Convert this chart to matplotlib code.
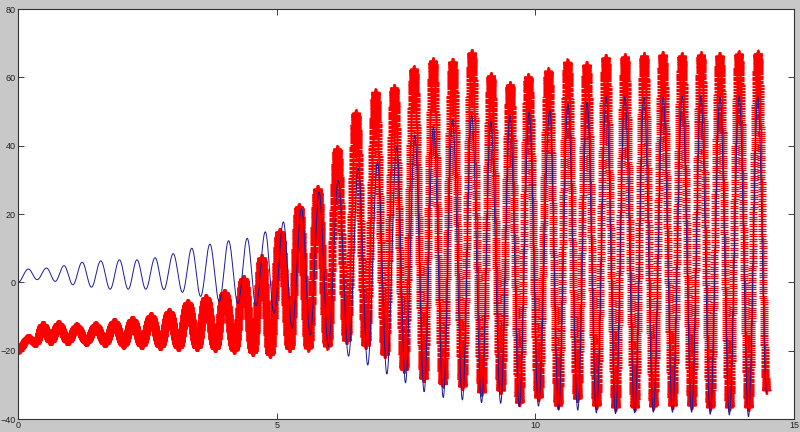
import numpy as np
import matplotlib
matplotlib.use("Agg")
import matplotlib.pyplot as plt

# red series: start, alternating peaks / troughs, end
red_start = (0.0, -19.7)
red_end = (14.47, -31.5)
red_peak_t = [0.20, 0.48, 0.78, 1.13, 1.50, 1.86, 2.21, 2.57, 2.92, 3.28,
              3.63, 3.99, 4.36, 4.71, 5.06, 5.43, 5.79, 6.17, 6.53, 6.91,
              7.27, 7.65, 8.02, 8.40, 8.77, 9.14, 9.51, 9.86, 10.25, 10.62,
              10.99, 11.36, 11.73, 12.10, 12.46, 12.83, 13.20, 13.56, 13.93, 14.30]
red_peak_v = [-16.3, -12.4, -12.2, -12.9, -12.6, -11.6, -10.9, -9.9, -8.7, -6.1,
              -4.6, -3.1, 1.0, 7.1, 14.8, 22.1, 27.3, 39.0, 49.5, 55.6,
              57.0, 62.4, 64.8, 64.6, 67.2, 60.5, 57.9, 60.2, 61.8, 64.4,
              63.6, 65.8, 66.0, 66.3, 66.5, 66.3, 66.5, 66.3, 66.8, 67.0]
red_trough_t = [0.34, 0.63, 0.96, 1.32, 1.68, 2.04, 2.39, 2.75, 3.10, 3.46,
                3.81, 4.18, 4.54, 4.87, 5.25, 5.61, 5.98, 6.35, 6.72, 7.09,
                7.46, 7.84, 8.21, 8.59, 8.96, 9.33, 9.69, 10.06, 10.44, 10.81,
                11.18, 11.55, 11.92, 12.28, 12.65, 13.02, 13.38, 13.75, 14.12]
red_trough_v = [-17.8, -17.3, -17.3, -17.4, -17.8, -18.2, -18.4, -18.7, -19.0, -19.0,
                -19.2, -19.7, -20.4, -21.0, -19.3, -19.1, -18.5, -16.9, -18.3, -21.1,
                -25.4, -28.1, -29.6, -30.3, -32.0, -31.5, -35.1, -33.5, -35.9, -33.9,
                -35.9, -36.4, -36.4, -36.1, -35.9, -35.9, -36.4, -36.4, -36.4]

# blue series
blue_start = (0.0, 0.0)
blue_end = (14.47, -32.0)
blue_peak_t = [0.20, 0.55, 0.89, 1.24, 1.60, 1.96, 2.30, 2.65, 3.00, 3.36,
               3.71, 4.07, 4.43, 4.78, 5.13, 5.48, 5.82, 6.19, 6.58, 6.95,
               7.32, 7.67, 8.03, 8.40, 8.77, 9.14, 9.51, 9.88, 10.28, 10.63,
               11.00, 11.37, 11.73, 12.10, 12.47, 12.84, 13.20, 13.57, 13.94, 14.30]
blue_peak_v = [3.9, 4.2, 4.9, 5.9, 6.3, 6.6, 6.6, 7.2, 8.4, 10.0,
               11.2, 12.2, 12.9, 14.8, 17.7, 21.7, 26.5, 29.9, 33.4, 35.3,
               39.7, 43.1, 45.5, 47.5, 49.0, 47.0, 49.0, 49.9, 50.4, 52.4,
               52.9, 54.3, 54.3, 54.3, 54.3, 54.5, 54.5, 54.3, 54.5, 54.5]
blue_trough_t = [0.37, 0.72, 1.06, 1.42, 1.78, 2.13, 2.47, 2.82, 3.18, 3.53,
                 3.89, 4.25, 4.60, 4.95, 5.30, 5.65, 6.00, 6.39, 6.76, 7.13,
                 7.49, 7.85, 8.22, 8.59, 8.96, 9.33, 9.69, 10.06, 10.45, 10.82,
                 11.18, 11.55, 11.92, 12.28, 12.65, 13.02, 13.38, 13.75, 14.12]
blue_trough_v = [0.8, 0.3, -0.7, -1.4, -2.0, -2.0, -2.0, -2.1, -2.9, -4.1,
                 -5.6, -6.2, -6.8, -9.1, -13.4, -15.4, -18.8, -21.6, -24.2, -26.8,
                 -29.4, -32.0, -33.7, -34.4, -35.2, -35.4, -36.4, -36.2, -37.4, -37.4,
                 -38.2, -38.4, -38.2, -38.0, -38.0, -38.0, -38.6, -38.8, -39.3]


def knots(start, pk_t, pk_v, tr_t, tr_v, end):
    t = [start[0]] + list(pk_t) + list(tr_t) + [end[0]]
    v = [start[1]] + list(pk_v) + list(tr_v) + [end[1]]
    order = np.argsort(t)
    return np.array(t)[order], np.array(v)[order]


def smooth_through(tk, vk, t):
    # half-cosine segments between successive extrema
    i = np.clip(np.searchsorted(tk, t, side="right") - 1, 0, len(tk) - 2)
    u = (t - tk[i]) / (tk[i + 1] - tk[i])
    return vk[i] + (vk[i + 1] - vk[i]) * (1 - np.cos(np.pi * u)) / 2


rt, rv = knots(red_start, red_peak_t, red_peak_v, red_trough_t, red_trough_v, red_end)
bt, bv = knots(blue_start, blue_peak_t, blue_peak_v, blue_trough_t, blue_trough_v, blue_end)

t = np.arange(0, 14.47, 0.0008)
red = smooth_through(rt, rv, t)
blue = smooth_through(bt, bv, t)

fig = plt.figure(figsize=(8, 4.32), dpi=100, facecolor="#c8c8c8")
ax = fig.add_axes([0.0225, 0.030, 0.97, 0.949])
ax.set_facecolor("white")

ax.plot(t, red, "+", color="#ff0000", markersize=6, markeredgewidth=0.9)
ax.plot(t, blue, "-", color="#1a1a9a", linewidth=0.7)

ax.set_xlim(0, 15)
ax.set_ylim(-40, 80)
ax.set_xticks([0, 5, 10, 15])
ax.set_yticks([-40, -20, 0, 20, 40, 60, 80])
ax.tick_params(direction="in", length=4, width=0.6, top=True, right=True,
               labelsize=6.5, pad=1.5, colors="#222222")
for lab in ax.get_xticklabels() + ax.get_yticklabels():
    lab.set_family("Liberation Sans")
for s in ax.spines.values():
    s.set_color("#333333")
    s.set_linewidth(0.8)

fig.savefig("out.png", dpi=100, facecolor=fig.get_facecolor())
